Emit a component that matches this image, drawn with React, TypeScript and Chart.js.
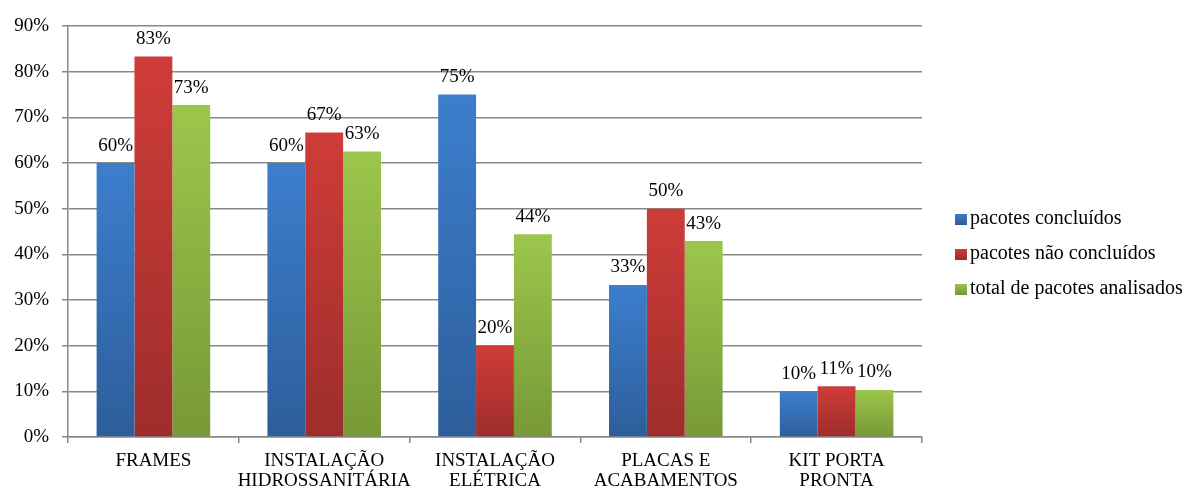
import React, { useEffect, useRef } from "react";
import { Chart, registerables } from "chart.js";

Chart.register(...registerables);

// Categories (multi-line axis labels)
const categories: string[][] = [
  ["FRAMES"],
  ["INSTALAÇÃO", "HIDROSSANITÁRIA"],
  ["INSTALAÇÃO", "ELÉTRICA"],
  ["PLACAS E", "ACABAMENTOS"],
  ["KIT PORTA", "PRONTA"],
];

// Series values (percent)
const concluidos: number[] = [60, 60, 75, 33.3, 10];
const naoConcluidos: number[] = [83.3, 66.7, 20, 50, 11.1];
const totalAnalisados: number[] = [72.7, 62.5, 44.4, 42.9, 10.3];

const seriesLabels: string[] = [
  "pacotes concluídos",
  "pacotes não concluídos",
  "total de pacotes analisados",
];

// Y axis ticks
const yMax = 90;
const yStep = 10;

const FONT = '"Liberation Serif", "Times New Roman", serif';
const TEXT = "#000000";
const GRID = "#878787";

// top / bottom colours of the vertical gradient for each series
const palette: [string, string][] = [
  ["#3c7ecd", "#2d5e9b"],
  ["#cf3c39", "#9d2d2b"],
  ["#9cc64b", "#779937"],
];

const barGradient = (top: string, bottom: string) => (ctx: any) => {
  const chart = ctx.chart;
  const y = chart.scales?.y;
  if (!chart.chartArea || !y || ctx.type !== "data") return top;
  const v = ctx.parsed ? ctx.parsed.y : ctx.raw;
  const yTop = y.getPixelForValue(v);
  const yBot = y.getPixelForValue(0);
  if (!isFinite(yTop) || !isFinite(yBot) || yBot - yTop < 0.5) return top;
  const g = chart.ctx.createLinearGradient(0, yTop, 0, yBot);
  g.addColorStop(0, top);
  g.addColorStop(1, bottom);
  return g;
};

// Value labels above every bar
const valueLabels = {
  id: "valueLabels",
  afterDatasetsDraw(chart: any) {
    const { ctx } = chart;
    ctx.save();
    ctx.font = `19px ${FONT}`;
    ctx.fillStyle = TEXT;
    ctx.textAlign = "center";
    ctx.textBaseline = "alphabetic";
    chart.data.datasets.forEach((ds: any, i: number) => {
      const meta = chart.getDatasetMeta(i);
      meta.data.forEach((bar: any, j: number) => {
        const v = ds.data[j] as number;
        ctx.fillText(`${Math.round(v)}%`, bar.x, bar.y - 12.5);
      });
    });
    ctx.restore();
  },
};

// Legend on the right side
const sideLegend = {
  id: "sideLegend",
  afterDraw(chart: any) {
    const { ctx } = chart;
    const boxX = 955;
    const textX = 970;
    const rows = [219, 254, 289];
    ctx.save();
    ctx.font = `20px ${FONT}`;
    ctx.textAlign = "left";
    ctx.textBaseline = "middle";
    chart.data.datasets.forEach((ds: any, i: number) => {
      const cy = rows[i];
      const g = ctx.createLinearGradient(0, cy - 5.5, 0, cy + 5.5);
      g.addColorStop(0, palette[i][0]);
      g.addColorStop(1, palette[i][1]);
      ctx.fillStyle = g;
      ctx.fillRect(boxX, cy - 5, 12, 11);
      ctx.fillStyle = TEXT;
      ctx.fillText(ds.label, textX, cy);
    });
    ctx.restore();
  },
};

export default function App() {
  const canvasRef = useRef<HTMLCanvasElement | null>(null);

  useEffect(() => {
    const canvas = canvasRef.current;
    if (!canvas) return;
    const seriesData = [concluidos, naoConcluidos, totalAnalisados];
    const chart = new Chart(canvas, {
      type: "bar",
      data: {
        labels: categories,
        datasets: seriesData.map((d, i) => ({
          label: seriesLabels[i],
          data: d,
          backgroundColor: barGradient(palette[i][0], palette[i][1]),
          borderWidth: 0,
          categoryPercentage: 0.665,
          barPercentage: 1,
        })),
      },
      options: {
        responsive: false,
        animation: false,
        devicePixelRatio: 1,
        layout: { padding: { left: 0, top: 26, right: 267, bottom: 0 } },
        plugins: {
          legend: { display: false },
          tooltip: { enabled: false },
          title: { display: false },
        },
        scales: {
          x: {
            grid: {
              display: true,
              drawOnChartArea: false,
              drawTicks: true,
              tickLength: 6,
              color: GRID,
              lineWidth: 1.5,
              offset: true,
            },
            border: { display: true, color: GRID, width: 1.5 },
            ticks: {
              color: TEXT,
              font: { family: FONT, size: 19, lineHeight: 1.05 },
              padding: 8,
              maxRotation: 0,
              autoSkip: false,
            },
            afterFit(scale: any) {
              scale.height = 52;
            },
          },
          y: {
            min: 0,
            max: yMax,
            grid: {
              color: GRID,
              lineWidth: 1.5,
              drawTicks: true,
              tickLength: 6,
            },
            border: { display: true, color: GRID, width: 1.5 },
            ticks: {
              stepSize: yStep,
              color: TEXT,
              font: { family: FONT, size: 19 },
              padding: 13,
              callback: (v: any) => `${v}%`,
            },
            afterFit(scale: any) {
              scale.width = 68;
            },
          },
        },
      },
      plugins: [valueLabels, sideLegend],
    });
    return () => chart.destroy();
  }, []);

  return (
    <div style={{ position: "absolute", left: 0, top: 0, width: 1189, height: 489, background: "#ffffff" }}>
      <canvas ref={canvasRef} width={1189} height={489} />
    </div>
  );
}
